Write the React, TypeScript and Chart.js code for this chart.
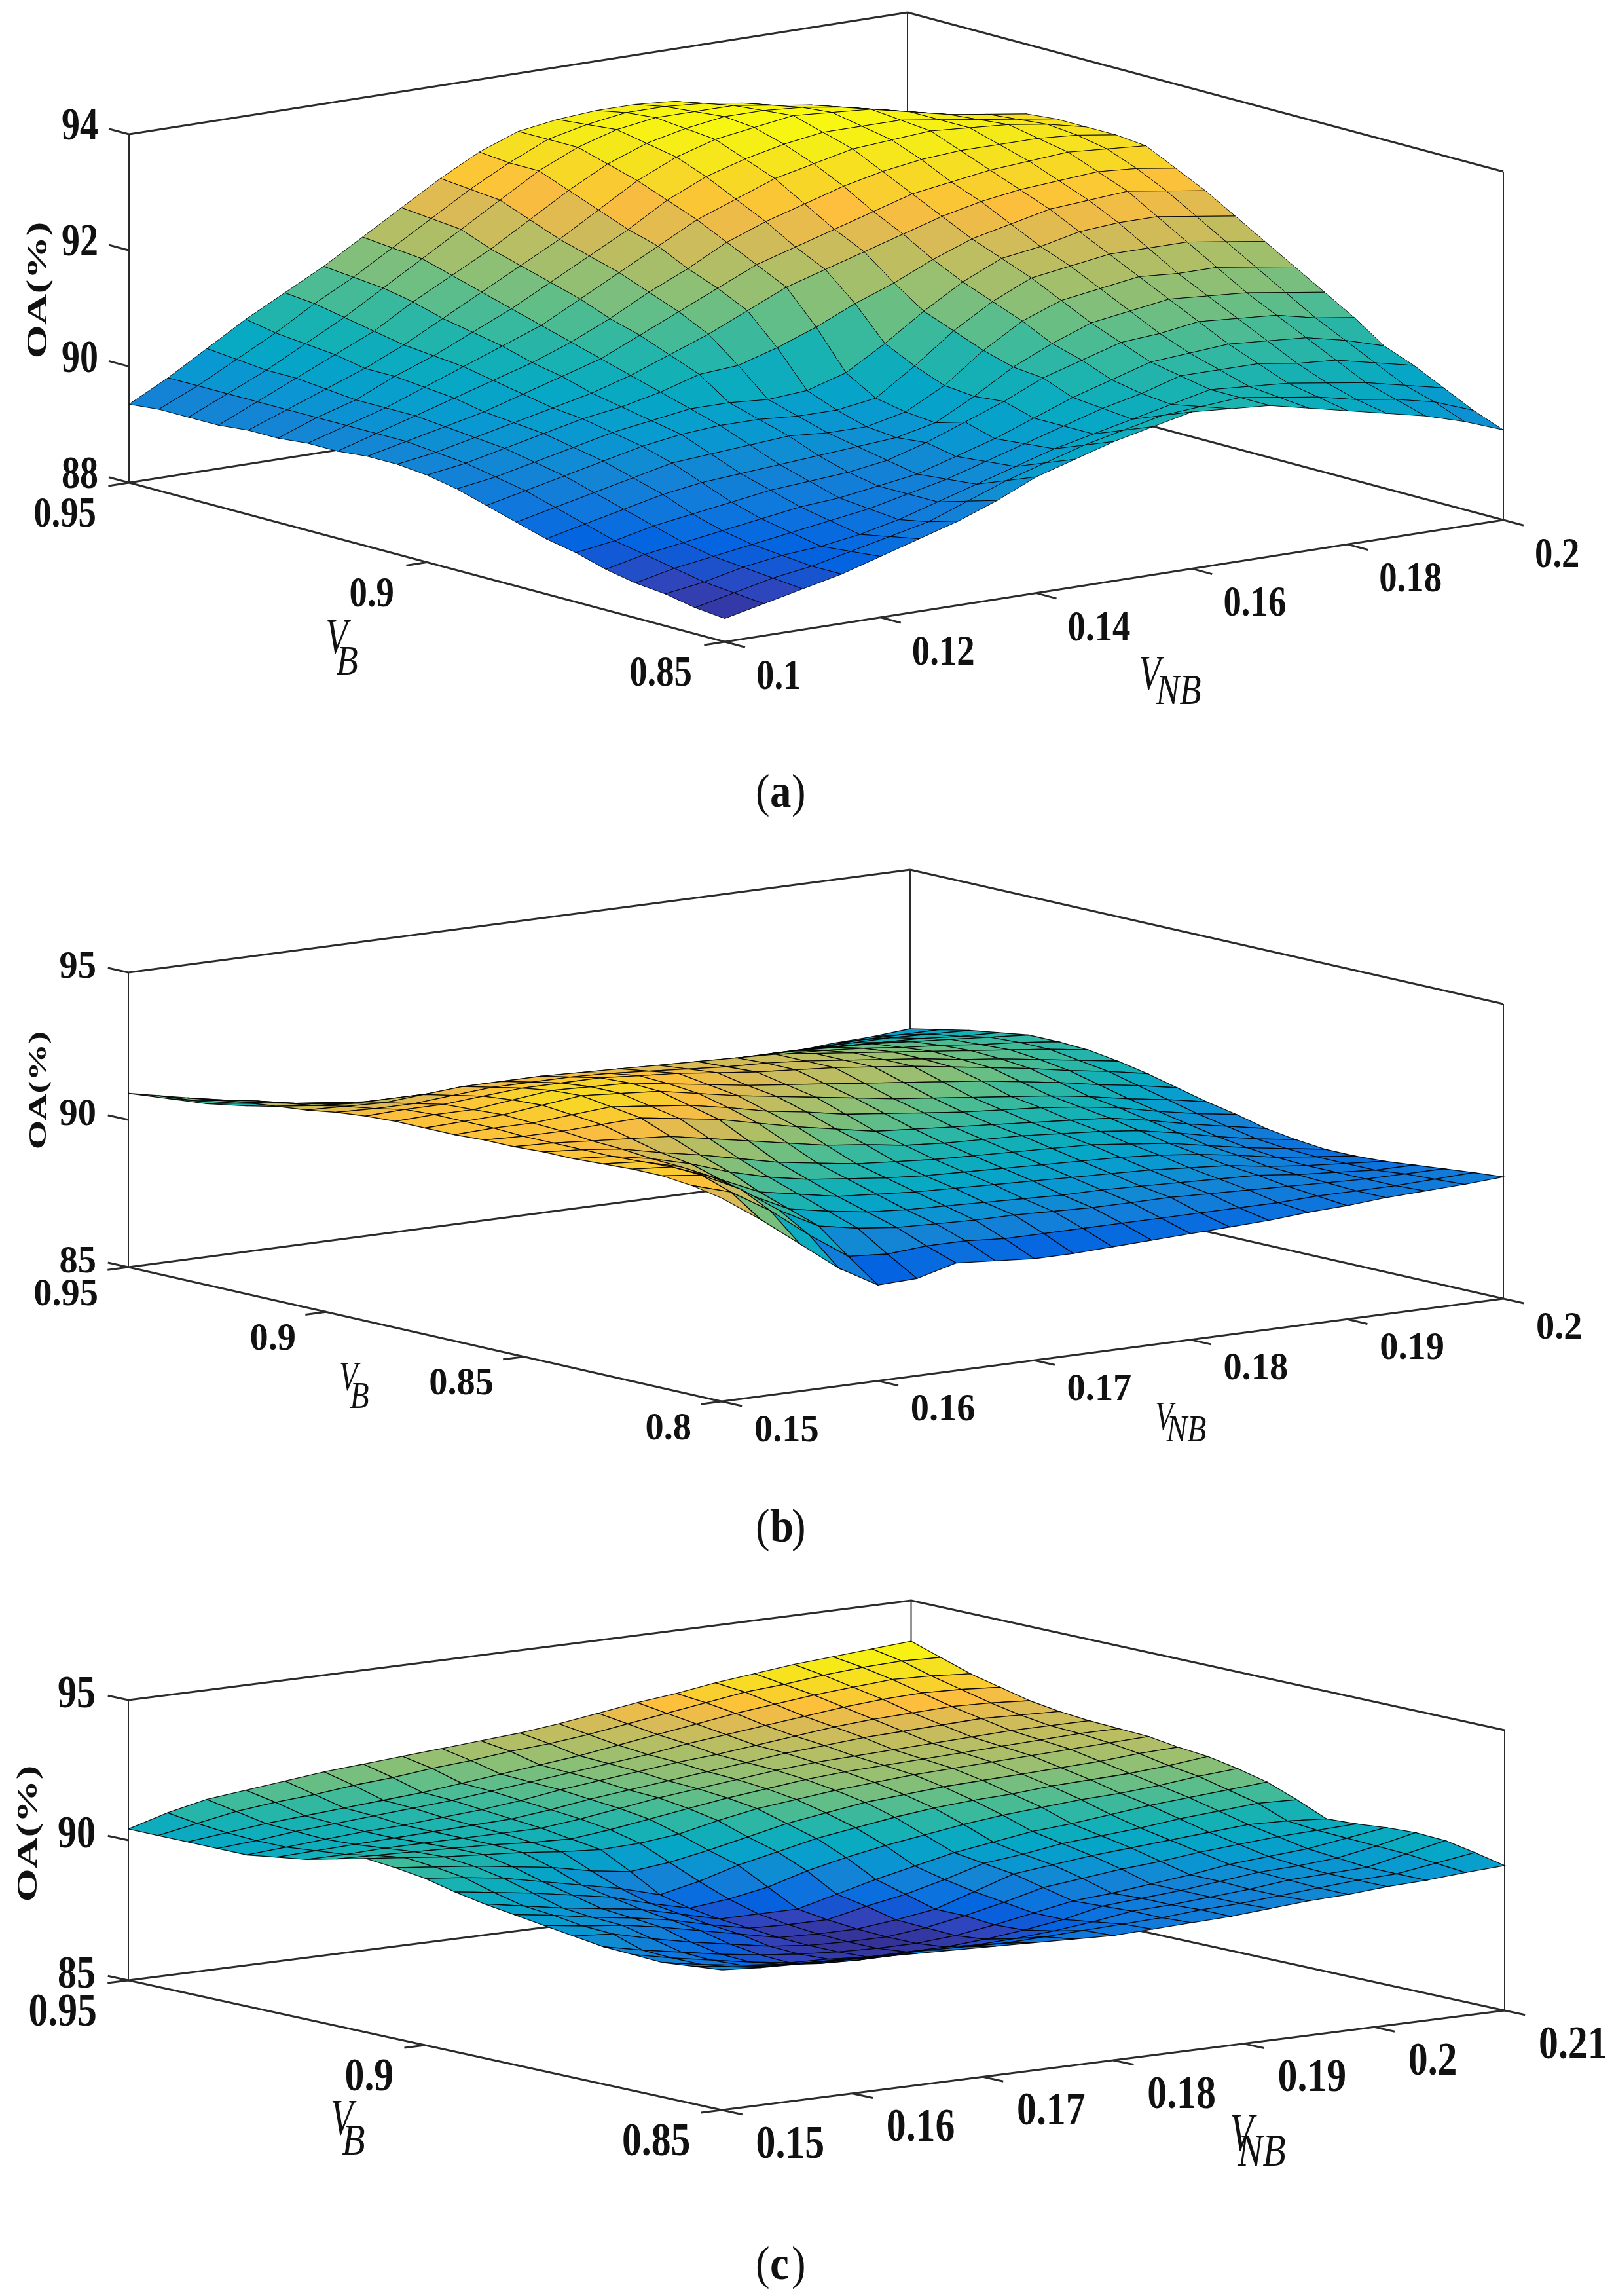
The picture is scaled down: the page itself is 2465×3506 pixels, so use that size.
import React, { useEffect, useRef } from "react";
import { Chart, registerables } from "chart.js";

Chart.register(...registerables);

const W = 2465;
const H = 3506;

// ---------- panel (a) ----------
const vnbGridA = [0.1,0.105,0.11,0.115,0.12,0.125,0.13,0.135,0.14,0.145,0.15,0.155,0.16,0.165,0.17,0.175,0.18,0.185,0.19,0.195,0.2];
const vbGridA = [0.95,0.945,0.94,0.935,0.93,0.925,0.92,0.915,0.91,0.905,0.9,0.895,0.89,0.885,0.88,0.875,0.87,0.865,0.86,0.855,0.85];
const oaA = [
[89.35,89.7,90.1,90.5,90.85,91.2,91.6,92.0,92.4,92.75,93.0,93.1,93.15,93.15,93.1,92.95,92.8,92.65,92.5,92.3,92.15],
[89.4,89.7,90.05,90.4,90.8,91.15,91.55,91.95,92.35,92.7,93.0,93.15,93.25,93.25,93.2,93.1,92.95,92.8,92.65,92.45,92.3],
[89.4,89.7,90.0,90.35,90.7,91.1,91.5,91.9,92.3,92.7,93.0,93.2,93.3,93.3,93.3,93.2,93.1,92.95,92.8,92.6,92.45],
[89.4,89.7,90.0,90.3,90.6,91.0,91.35,91.7,92.1,92.5,92.85,93.1,93.25,93.35,93.35,93.3,93.2,93.05,92.9,92.75,92.6],
[89.45,89.7,89.95,90.2,90.5,90.85,91.2,91.55,91.9,92.3,92.7,93.0,93.2,93.3,93.4,93.35,93.3,93.15,93.0,92.9,92.8],
[89.45,89.7,89.9,90.2,90.45,90.75,91.05,91.4,91.75,92.1,92.5,92.8,93.0,93.15,93.25,93.25,93.25,93.15,93.05,92.95,92.85],
[89.5,89.7,89.9,90.15,90.4,90.65,90.9,91.25,91.6,91.95,92.3,92.55,92.8,92.95,93.1,93.15,93.2,93.15,93.1,93.0,92.85],
[89.5,89.7,89.9,90.1,90.3,90.5,90.75,91.05,91.4,91.7,92.05,92.3,92.5,92.7,92.85,92.95,93.0,93.0,93.0,92.95,92.85],
[89.55,89.7,89.85,90.0,90.2,90.4,90.6,90.9,91.2,91.5,91.8,92.0,92.2,92.4,92.6,92.7,92.8,92.85,92.9,92.85,92.8],
[89.55,89.65,89.8,89.95,90.1,90.25,90.45,90.7,90.95,91.25,91.55,91.75,91.95,92.15,92.35,92.5,92.6,92.65,92.7,92.65,92.55],
[89.5,89.6,89.75,89.9,90.05,90.15,90.3,90.5,90.55,90.75,91.0,91.3,91.55,91.85,92.1,92.25,92.4,92.45,92.5,92.4,92.3],
[89.4,89.5,89.65,89.8,89.95,90.05,90.15,90.15,90.1,90.15,90.35,90.75,91.2,91.6,91.9,92.0,92.15,92.2,92.2,92.1,92.0],
[89.25,89.4,89.55,89.7,89.85,89.95,90.0,90.0,89.95,89.95,90.05,90.5,91.0,91.4,91.7,91.8,91.9,91.9,91.9,91.8,91.7],
[89.1,89.25,89.4,89.55,89.7,89.75,89.8,89.85,89.8,89.8,89.95,90.3,90.8,91.2,91.45,91.55,91.65,91.6,91.6,91.5,91.4],
[88.95,89.1,89.25,89.4,89.5,89.55,89.6,89.65,89.7,89.75,89.9,90.25,90.65,90.95,91.2,91.3,91.4,91.35,91.3,91.2,91.1],
[88.85,88.95,89.1,89.2,89.3,89.4,89.45,89.5,89.6,89.8,90.05,90.3,90.6,90.8,91.0,91.05,91.15,91.1,91.05,90.9,90.8],
[88.7,88.85,88.95,89.05,89.15,89.25,89.3,89.4,89.5,89.7,89.9,90.15,90.4,90.6,90.8,90.85,90.9,90.85,90.8,90.65,90.45],
[88.6,88.75,88.85,88.95,89.05,89.15,89.25,89.4,89.55,89.75,89.95,90.15,90.35,90.5,90.7,90.7,90.7,90.6,90.55,90.4,90.25],
[88.55,88.65,88.8,88.9,88.95,89.05,89.2,89.4,89.6,89.8,90.0,90.15,90.3,90.45,90.6,90.55,90.5,90.4,90.3,90.15,90.0],
[88.45,88.6,88.75,88.85,89.0,89.15,89.3,89.55,89.8,90.0,90.2,90.35,90.5,90.55,90.6,90.5,90.4,90.25,90.15,90.0,89.75],
[88.4,88.55,88.7,88.85,89.05,89.25,89.45,89.7,90.0,90.2,90.4,90.55,90.7,90.65,90.6,90.45,90.3,90.15,90.0,89.8,89.55],
];
const vbTicksA = [0.95, 0.9, 0.85];
const vbLabelsA = ["0.95", "0.9", "0.85"];
const vnbTicksA = [0.1, 0.12, 0.14, 0.16, 0.18, 0.2];
const vnbLabelsA = ["0.1", "0.12", "0.14", "0.16", "0.18", "0.2"];
const oaTicksA = [88, 90, 92, 94];
const oaLabelsA = ["88", "90", "92", "94"];

// ---------- panel (b) ----------
const vnbGridB = [0.15,0.1525,0.155,0.1575,0.16,0.1625,0.165,0.1675,0.17,0.1725,0.175,0.1775,0.18,0.1825,0.185,0.1875,0.19,0.1925,0.195,0.1975,0.2];
const vbGridB = [0.95,0.9425,0.935,0.9275,0.92,0.9125,0.905,0.8975,0.89,0.8825,0.875,0.8675,0.86,0.8525,0.845,0.8375,0.83,0.8225,0.815,0.8075,0.8];
const oaB = [
[90.9,90.55,90.2,89.95,89.75,89.6,89.5,89.4,89.35,89.3,89.3,89.25,89.2,89.2,89.2,89.25,89.3,89.35,89.45,89.5,89.6],
[91.05,90.7,90.45,90.25,90.0,89.85,89.75,89.65,89.6,89.6,89.6,89.6,89.6,89.65,89.65,89.7,89.7,89.75,89.8,89.8,89.8],
[91.2,90.95,90.7,90.45,90.2,90.1,90.0,89.95,89.9,89.9,89.9,89.95,90.0,90.05,90.1,90.1,90.1,90.1,90.1,90.05,90.0],
[91.35,91.15,90.9,90.75,90.55,90.5,90.45,90.4,90.35,90.35,90.35,90.4,90.4,90.45,90.45,90.45,90.4,90.35,90.3,90.2,90.15],
[91.5,91.3,91.1,91.0,90.9,90.9,90.9,90.85,90.8,90.8,90.8,90.8,90.8,90.8,90.8,90.75,90.7,90.6,90.5,90.4,90.3],
[91.6,91.45,91.35,91.35,91.35,91.35,91.35,91.3,91.25,91.2,91.2,91.2,91.15,91.1,91.05,90.95,90.8,90.7,90.55,90.45,90.3],
[91.7,91.65,91.6,91.7,91.8,91.8,91.8,91.75,91.7,91.65,91.6,91.55,91.5,91.35,91.2,91.05,90.9,90.75,90.6,90.45,90.25],
[91.85,91.8,91.8,91.9,92.0,92.0,92.0,91.95,91.85,91.75,91.65,91.6,91.5,91.35,91.2,91.05,90.85,90.7,90.5,90.3,90.1],
[91.95,92.0,92.0,92.1,92.2,92.2,92.2,92.1,92.0,91.85,91.7,91.6,91.5,91.35,91.2,91.0,90.8,90.6,90.35,90.15,89.9],
[92.0,92.05,92.05,92.2,92.35,92.3,92.25,92.05,91.85,91.65,91.5,91.35,91.2,91.05,90.9,90.75,90.55,90.35,90.1,89.9,89.65],
[92.0,92.05,92.1,92.25,92.4,92.3,92.2,91.95,91.7,91.5,91.3,91.1,90.9,90.75,90.6,90.45,90.3,90.1,89.85,89.65,89.4],
[92.0,92.05,92.05,92.15,92.25,92.1,91.95,91.7,91.4,91.2,90.95,90.8,90.65,90.5,90.4,90.3,90.15,89.95,89.65,89.4,89.2],
[92.05,92.0,92.0,92.05,92.1,91.9,91.7,91.4,91.1,90.85,90.6,90.5,90.4,90.3,90.2,90.1,90.0,89.75,89.45,89.2,88.95],
[92.05,92.0,91.9,91.8,91.7,91.45,91.2,90.95,90.7,90.55,90.35,90.25,90.2,90.15,90.05,89.95,89.8,89.55,89.25,89.0,88.8],
[92.1,92.0,91.85,91.55,91.3,91.0,90.7,90.5,90.3,90.2,90.1,90.05,90.0,89.95,89.9,89.75,89.6,89.35,89.1,88.9,88.7],
[92.1,92.0,91.75,91.4,90.95,90.6,90.35,90.2,90.05,89.95,89.9,89.85,89.8,89.75,89.7,89.6,89.45,89.25,89.0,88.85,88.7],
[92.15,92.05,91.7,91.1,90.5,90.25,90.0,89.9,89.8,89.75,89.7,89.65,89.6,89.55,89.5,89.4,89.3,89.1,88.95,88.85,88.75],
[92.2,92.1,91.6,90.8,90.15,89.9,89.7,89.6,89.55,89.5,89.45,89.4,89.4,89.35,89.3,89.25,89.2,89.05,88.95,88.85,88.85],
[92.2,92.05,91.4,90.5,89.8,89.55,89.4,89.35,89.3,89.3,89.25,89.2,89.2,89.2,89.15,89.1,89.05,89.0,88.95,88.95,88.95],
[92.1,91.7,90.9,89.9,89.0,88.9,89.0,89.0,88.9,88.9,88.9,88.9,88.9,88.9,88.9,88.9,88.95,88.95,88.95,89.0,89.05],
[91.9,91.0,90.0,89.0,88.25,88.3,88.65,88.55,88.45,88.45,88.5,88.55,88.6,88.65,88.7,88.8,88.85,88.95,89.0,89.05,89.13],
];
const vbTicksB = [0.95, 0.9, 0.85, 0.8];
const vbLabelsB = ["0.95", "0.9", "0.85", "0.8"];
const vnbTicksB = [0.15, 0.16, 0.17, 0.18, 0.19, 0.2];
const vnbLabelsB = ["0.15", "0.16", "0.17", "0.18", "0.19", "0.2"];
const oaTicksB = [85, 90, 95];
const oaLabelsB = ["85", "90", "95"];

// ---------- panel (c) ----------
const vnbGridC = [0.15,0.153,0.156,0.159,0.162,0.165,0.168,0.171,0.174,0.177,0.18,0.183,0.186,0.189,0.192,0.195,0.198,0.201,0.204,0.207,0.21];
const vbGridC = [0.95,0.945,0.94,0.935,0.93,0.925,0.92,0.915,0.91,0.905,0.9,0.895,0.89,0.885,0.88,0.875,0.87,0.865,0.86,0.855,0.85];
const oaC = [
[90.4,90.8,91.1,91.25,91.4,91.55,91.65,91.75,91.85,91.95,92.05,92.2,92.4,92.6,92.75,92.95,93.1,93.25,93.35,93.45,93.55],
[90.4,90.65,90.9,91.05,91.15,91.3,91.4,91.55,91.65,91.8,91.9,92.05,92.25,92.45,92.65,92.85,92.95,93.1,93.2,93.25,93.2],
[90.4,90.55,90.7,90.8,90.9,91.0,91.1,91.25,91.4,91.55,91.7,91.9,92.1,92.3,92.5,92.65,92.8,92.9,93.0,92.95,92.85],
[90.4,90.5,90.65,90.75,90.85,90.95,91.05,91.2,91.35,91.5,91.65,91.8,92.0,92.15,92.3,92.45,92.6,92.7,92.75,92.7,92.6],
[90.4,90.5,90.6,90.7,90.75,90.85,90.95,91.1,91.3,91.45,91.6,91.75,91.85,92.0,92.15,92.3,92.4,92.45,92.5,92.45,92.35],
[90.55,90.6,90.65,90.7,90.75,90.8,90.85,91.0,91.2,91.35,91.5,91.65,91.8,91.95,92.05,92.15,92.2,92.25,92.3,92.25,92.2],
[90.7,90.7,90.75,90.75,90.75,90.75,90.75,90.9,91.1,91.3,91.45,91.6,91.75,91.85,91.9,91.95,92.0,92.05,92.1,92.1,92.1],
[90.95,90.9,90.85,90.8,90.75,90.65,90.6,90.75,90.95,91.15,91.35,91.5,91.65,91.75,91.8,91.85,91.9,91.95,92.0,92.05,92.05],
[91.2,91.05,90.9,90.8,90.7,90.55,90.45,90.5,90.65,90.95,91.2,91.35,91.5,91.6,91.7,91.75,91.8,91.85,91.9,91.95,92.0],
[91.1,90.95,90.8,90.6,90.4,90.1,89.9,90.05,90.3,90.6,90.9,91.1,91.3,91.4,91.5,91.55,91.6,91.65,91.7,91.8,91.85],
[90.95,90.8,90.6,90.3,90.0,89.7,89.3,89.6,90.0,90.3,90.6,90.8,91.0,91.15,91.25,91.3,91.4,91.45,91.5,91.6,91.75],
[90.7,90.5,90.3,90.05,89.8,89.4,89.05,89.2,89.45,89.85,90.15,90.4,90.6,90.8,90.95,91.05,91.15,91.2,91.3,91.45,91.55],
[90.5,90.25,90.0,89.8,89.6,89.25,88.9,88.9,88.9,89.25,89.6,89.9,90.2,90.4,90.6,90.7,90.85,91.0,91.1,91.2,91.3],
[90.35,90.15,89.9,89.7,89.45,89.1,88.8,88.75,88.75,89.05,89.3,89.65,90.05,90.2,90.4,90.5,90.6,90.75,90.85,90.95,90.9],
[90.2,90.0,89.85,89.6,89.3,89.0,88.7,88.65,88.65,88.8,89.0,89.45,89.9,90.05,90.2,90.3,90.4,90.5,90.6,90.55,90.45],
[90.05,89.95,89.6,89.3,89.05,88.8,88.65,88.6,88.6,88.75,89.0,89.3,89.65,89.8,89.95,90.05,90.2,90.3,90.4,90.45,90.5],
[89.9,89.6,89.35,89.1,88.9,88.75,88.65,88.6,88.6,88.7,88.9,89.15,89.4,89.5,89.65,89.8,90.0,90.1,90.2,90.4,90.6],
[89.85,89.55,89.3,89.05,88.85,88.8,88.7,88.7,88.7,88.8,88.95,89.15,89.45,89.55,89.65,89.8,89.95,90.0,90.1,90.35,90.65],
[89.8,89.55,89.35,89.2,89.05,89.0,89.0,89.0,89.0,89.05,89.15,89.3,89.5,89.55,89.65,89.75,89.9,89.95,90.0,90.3,90.6],
[89.9,89.7,89.55,89.5,89.45,89.4,89.4,89.35,89.3,89.35,89.4,89.45,89.5,89.6,89.65,89.75,89.85,89.95,90.0,90.2,90.4],
[90.0,89.9,89.85,89.8,89.75,89.7,89.65,89.6,89.55,89.5,89.45,89.5,89.55,89.6,89.7,89.8,89.85,89.95,90.0,90.1,90.17],
];
const vbTicksC = [0.95, 0.9, 0.85];
const vbLabelsC = ["0.95", "0.9", "0.85"];
const vnbTicksC = [0.15, 0.16, 0.17, 0.18, 0.19, 0.2, 0.21];
const vnbLabelsC = ["0.15", "0.16", "0.17", "0.18", "0.19", "0.2", "0.21"];
const oaTicksC = [85, 90, 95];
const oaLabelsC = ["85", "90", "95"];

// ---------- view of each panel: the oblique projection and text styling ----------
const PANELS = [
  {
    vb: vbGridA, vnb: vnbGridA, oa: oaA, vbTicks: vbTicksA, vbLabels: vbLabelsA, vnbTicks: vnbTicksA, vnbLabels: vnbLabelsA, oaTicks: oaTicksA, oaLabels: oaLabelsA,
    front: [1107, 980], uVec: [1189, -186], vVec: [-910, -243], zPx: 88.67, zMin: 88, zMax: 94, clim: [88.3, 93.4], mesh: 1,
    font: 66, fontX: 0.83, zFont: 70, zFontX: 0.8, zLab: [-47, -10], vbLab: [-50, 50], vnbLab: [48, 55],
    vbName: { v: [514, 977], s: [530, 1013], vf: 76, sf: 64 }, vnbName: { v: [1756, 1033], s: [1800, 1058], vf: 76, sf: 66 },
    oaName: [60, 443, 44, 1.5], caption: ["(", "a", ")", 1192, 1213],
  },
  {
    vb: vbGridB, vnb: vnbGridB, oa: oaB, vbTicks: vbTicksB, vbLabels: vbLabelsB, vnbTicks: vnbTicksB, vnbLabels: vnbLabelsB, oaTicks: oaTicksB, oaLabels: oaLabelsB,
    front: [1102, 2140], uVec: [1194, -157], vVec: [-906, -205], zPx: 45, zMin: 85, zMax: 95, clim: [88.0, 92.9], mesh: 1.3,
    font: 60, fontX: 0.94, zFont: 60, zFontX: 0.94, zLab: [-49, -8], vbLab: [-46, 42], vnbLab: [50, 45],
    vbName: { v: [532, 2106], s: [549, 2135], vf: 64, sf: 56 }, vnbName: { v: [1778, 2166], s: [1812, 2186], vf: 62, sf: 58 },
    oaName: [60, 1665, 38, 1.5], caption: ["(", "b", ")", 1192, 2335],
  },
  {
    vb: vbGridC, vnb: vnbGridC, oa: oaC, vbTicks: vbTicksC, vbLabels: vbLabelsC, vnbTicks: vnbTicksC, vnbLabels: vnbLabelsC, oaTicks: oaTicksC, oaLabels: oaLabelsC,
    front: [1102.5, 3222], uVec: [1195.5, -152], vVec: [-906.5, -198], zPx: 42.8, zMin: 85, zMax: 95, clim: [88.5, 93.55], mesh: 1.3,
    font: 72, fontX: 0.83, zFont: 70, zFontX: 0.83, zLab: [-50, -7], vbLab: [-48, 50], vnbLab: [52, 54],
    vbName: { v: [522, 3238], s: [540, 3272], vf: 78, sf: 68 }, vnbName: { v: [1896, 3261], s: [1927, 3289], vf: 82, sf: 70 },
    oaName: [45, 2800, 44, 1.5], caption: ["(", "c", ")", 1192, 3461],
  },
];

const PARULA = [
  [53,42,135],[50,67,186],[3,99,225],[16,120,220],[20,133,212],[9,152,209],[6,167,198],[21,177,180],
  [56,185,158],[101,190,134],[146,191,115],[183,190,99],[217,186,86],[253,190,61],[247,216,38],[245,235,24],[249,251,14],
];

function parula(t: number) {
  const c = Math.max(0, Math.min(0.9999, t)) * (PARULA.length - 1);
  const k = Math.floor(c);
  const f = c - k;
  const m = PARULA[k].map((a, n) => Math.round(a + (PARULA[k + 1][n] - a) * f));
  return `rgb(${m[0]},${m[1]},${m[2]})`;
}

function projector(p: any) {
  const vbHi = p.vb[0], vbLo = p.vb[p.vb.length - 1];
  const nbLo = p.vnb[0], nbHi = p.vnb[p.vnb.length - 1];
  return (vb: number, nb: number, oa: number) => {
    const u = (nb - nbLo) / (nbHi - nbLo);
    const v = (vb - vbLo) / (vbHi - vbLo);
    return {
      x: p.front[0] + u * p.uVec[0] + v * p.vVec[0],
      y: p.front[1] + u * p.uVec[1] + v * p.vVec[1] - (oa - p.zMin) * p.zPx,
    };
  };
}

function buildDatasets() {
  const surfaces: any[] = [];
  const frames: any[] = [];
  const seg = (a: any, b: any, w: number) => {
    frames.push({
      data: [a, b], showLine: true, fill: false, borderColor: "#2b2b2b", borderWidth: w, pointRadius: 0,
    });
  };
  for (const p of PANELS) {
    const at = projector(p);
    const vbHi = p.vb[0], vbLo = p.vb[p.vb.length - 1];
    const nbLo = p.vnb[0], nbHi = p.vnb[p.vnb.length - 1];
    // nearest cells first: Chart.js paints dataset 0 last
    for (let i = p.vb.length - 2; i >= 0; i--) {
      for (let j = 0; j < p.vnb.length - 1; j++) {
        const a = p.oa[i][j], b = p.oa[i][j + 1], c = p.oa[i + 1][j + 1], d = p.oa[i + 1][j];
        const mean = (a + b + c + d) / 4;
        const pa = at(p.vb[i], p.vnb[j], a);
        surfaces.push({
          data: [pa, at(p.vb[i], p.vnb[j + 1], b), at(p.vb[i + 1], p.vnb[j + 1], c), at(p.vb[i + 1], p.vnb[j], d), pa],
          showLine: true,
          fill: "shape",
          backgroundColor: parula((mean - p.clim[0]) / (p.clim[1] - p.clim[0])),
          borderColor: "rgba(0,0,0,0.9)",
          borderWidth: p.mesh,
          pointRadius: 0,
        });
      }
    }
    const lf = at(vbHi, nbLo, p.zMin), fr = at(vbLo, nbLo, p.zMin), rt = at(vbLo, nbHi, p.zMin), bk = at(vbHi, nbHi, p.zMin);
    const lt = at(vbHi, nbLo, p.zMax), rtt = at(vbLo, nbHi, p.zMax), bt = at(vbHi, nbHi, p.zMax);
    seg(lf, fr, 3); seg(fr, rt, 3); seg(lf, bk, 3); seg(bk, rt, 3);
    seg(lt, bt, 3); seg(bt, rtt, 3);
    seg(lf, lt, 2); seg(bk, bt, 2); seg(rt, rtt, 2);
    const un = Math.hypot(p.uVec[0], p.uVec[1]), vn = Math.hypot(p.vVec[0], p.vVec[1]);
    const ux = p.uVec[0] / un, uy = p.uVec[1] / un, vx = p.vVec[0] / vn, vy = p.vVec[1] / vn;
    p.vbTicks.forEach((t: number) => {
      const q = at(t, nbLo, p.zMin);
      seg(q, { x: q.x - ux * 32, y: q.y - uy * 32 }, 3);
    });
    p.vnbTicks.forEach((t: number) => {
      const q = at(vbLo, t, p.zMin);
      seg(q, { x: q.x - vx * 32, y: q.y - vy * 32 }, 3);
    });
    p.oaTicks.forEach((t: number) => {
      const q = at(vbHi, nbLo, t);
      seg(q, { x: q.x + vx * 32, y: q.y + vy * 32 }, 3);
    });
  }
  return [...surfaces, ...frames];
}

function put(ctx: any, text: string, x: number, y: number, font: string, sx: number, align: string, rot = 0) {
  ctx.save();
  ctx.translate(x, y);
  if (rot) ctx.rotate(rot);
  ctx.scale(sx, 1);
  ctx.font = font;
  ctx.textAlign = align;
  ctx.textBaseline = "middle";
  ctx.fillStyle = "#111";
  ctx.fillText(text, 0, 0);
  ctx.restore();
}

const textPlugin = {
  id: "panelText",
  afterDraw(chart: any) {
    const ctx = chart.ctx;
    const sx = chart.scales.x, sy = chart.scales.y;
    const S = "'Liberation Serif'";
    for (const p of PANELS as any[]) {
      const at = projector(p);
      const vbHi = p.vb[0], vbLo = p.vb[p.vb.length - 1], nbLo = p.vnb[0];
      const px = (q: any) => [sx.getPixelForValue(q.x), sy.getPixelForValue(q.y)];
      const tf = `bold ${p.font}px ${S}`;
      p.vbTicks.forEach((t: number, i: number) => {
        const [x, y] = px(at(t, nbLo, p.zMin));
        put(ctx, p.vbLabels[i], x + p.vbLab[0], y + p.vbLab[1], tf, p.fontX, "right");
      });
      p.vnbTicks.forEach((t: number, i: number) => {
        const [x, y] = px(at(vbLo, t, p.zMin));
        put(ctx, p.vnbLabels[i], x + p.vnbLab[0], y + p.vnbLab[1], tf, p.fontX, "left");
      });
      p.oaTicks.forEach((t: number, i: number) => {
        const [x, y] = px(at(vbHi, nbLo, t));
        put(ctx, p.oaLabels[i], x + p.zLab[0], y + p.zLab[1], `bold ${p.zFont}px ${S}`, p.zFontX, "right");
      });
      const nm = (n: any, sub: string, subX: number) => {
        put(ctx, "V", n.v[0], n.v[1], `italic ${n.vf}px ${S}`, 0.72, "center");
        put(ctx, sub, n.s[0], n.s[1], `italic ${n.sf}px ${S}`, subX, "center");
      };
      nm(p.vbName, "B", 0.85);
      nm(p.vnbName, "NB", 0.82);
      put(ctx, "OA(%)", p.oaName[0], p.oaName[1], `bold ${p.oaName[2]}px ${S}`, p.oaName[3], "center", -Math.PI / 2);
      const c = p.caption;
      const cf = `72px ${S}`;
      put(ctx, c[0], c[3] - 38, c[4], cf, 0.9, "left");
      put(ctx, c[1], c[3] - 16, c[4], `bold ${cf}`, 0.9, "left");
      put(ctx, c[2], c[3] + 17, c[4], cf, 0.9, "left");
    }
  },
};

export default function App() {
  const ref = useRef<HTMLCanvasElement | null>(null);
  useEffect(() => {
    const chart = new Chart(ref.current as any, {
      type: "scatter",
      data: { datasets: buildDatasets() },
      options: {
        animation: false,
        responsive: false,
        devicePixelRatio: 1,
        events: [],
        layout: { padding: 0 },
        plugins: { legend: { display: false }, tooltip: { enabled: false } },
        scales: {
          x: { type: "linear", display: false, min: 0, max: W },
          y: { type: "linear", display: false, min: 0, max: H, reverse: true },
        },
      },
      plugins: [textPlugin],
    } as any);
    return () => chart.destroy();
  }, []);
  return (
    <div style={{ position: "absolute", left: 0, top: 0, width: W, height: H, background: "#fff" }}>
      <canvas ref={ref} width={W} height={H} style={{ display: "block" }} />
    </div>
  );
}
